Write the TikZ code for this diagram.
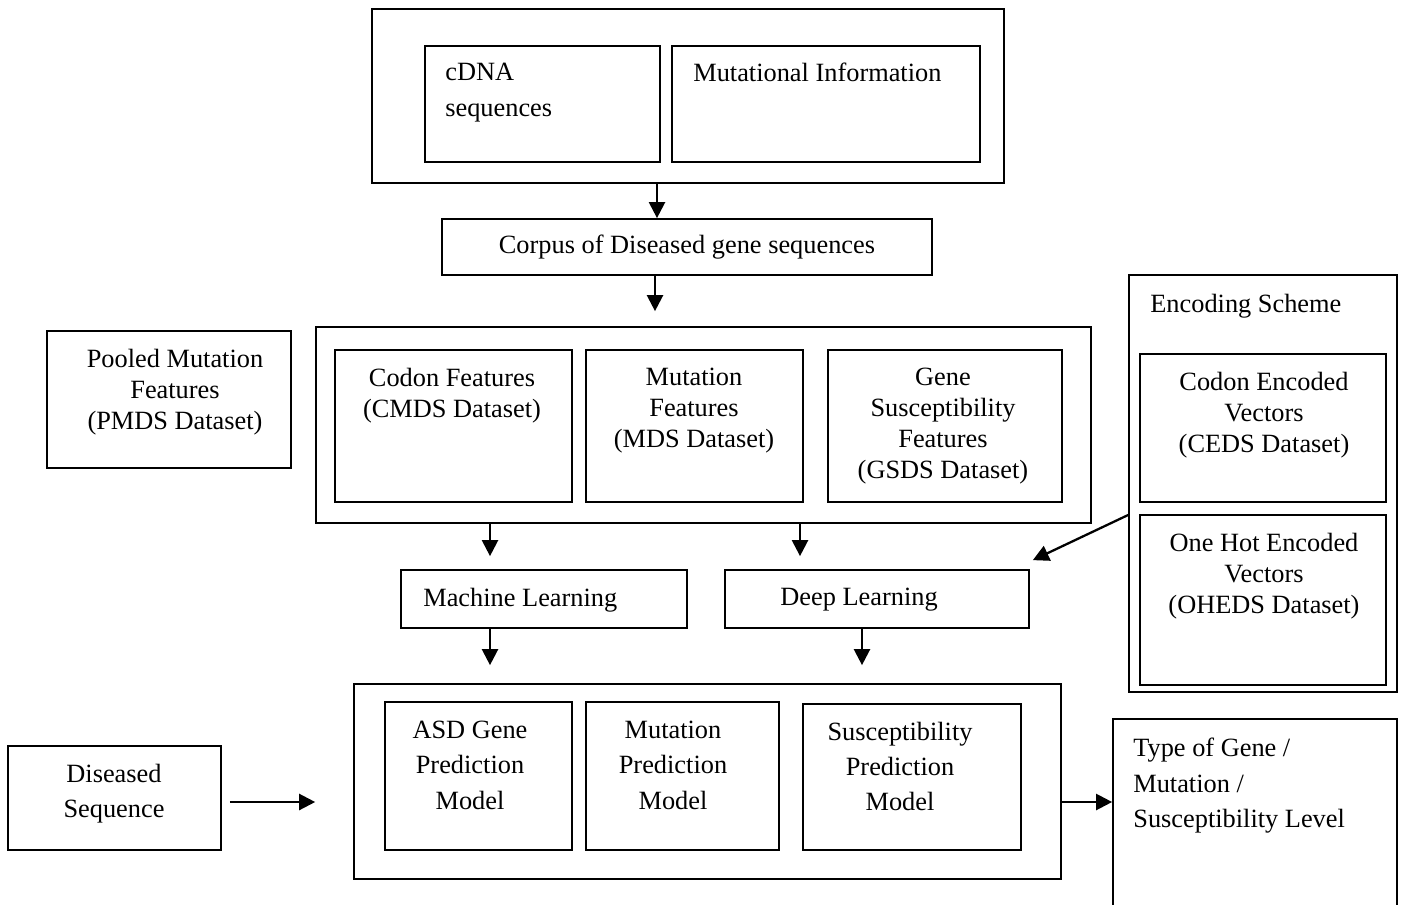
\documentclass[tikz,border=0pt]{standalone}
\usepackage{fontspec}
\setmainfont{Liberation Serif}
\usetikzlibrary{arrows.meta, calc, positioning}

\begin{document}
\begin{tikzpicture}[x=0.02cm, y=-0.02cm,
  box/.style={draw, line width=1pt, inner sep=0pt},
  lbl/.style={inner sep=0pt, align=center, font=\fontsize{15}{20}\selectfont},
  lbltight/.style={lbl, font=\fontsize{15}{17.6}\selectfont},
  flow/.style={-{Triangle[length=0.32cm, width=0.32cm]}, line width=1.3pt}
]
  \useasboundingbox (0,0) rectangle (1401,904);

  % sources
  \node[box, minimum width=12.64cm, minimum height=3.48cm] (src) at (688,96) {};
  \node[box, minimum width=4.70cm, minimum height=2.32cm] (cdna) at (542.5,104) {};
  \node[box, minimum width=6.16cm, minimum height=2.32cm] (mutinfo) at (826,104) {};
  \node[lbl, align=left, anchor=north west, font=\fontsize{15}{20.5}\selectfont] (cdnaT) at (445,63) {cDNA\\sequences};
  \node[lbl, anchor=north west] (mutinfoT) at (693,63) {Mutational Information};

  \node[box, lbl, minimum width=9.80cm, minimum height=1.12cm] (corpus) at (687,247) {Corpus of Diseased gene sequences};

  % feature sets
  \node[box, minimum width=15.50cm, minimum height=3.92cm] (feat) at (703.5,425) {};
  \node[box, minimum width=4.74cm, minimum height=3.04cm] (codon) at (453.5,426) {};
  \node[box, minimum width=4.34cm, minimum height=3.04cm] (mutfeat) at (694.5,426) {};
  \node[box, minimum width=4.68cm, minimum height=3.04cm] (genefeat) at (945,426) {};
  \node[lbltight, anchor=north] (codonT) at (452,368) {Codon Features\\(CMDS Dataset)};
  \node[lbltight, anchor=north] (mutfeatT) at (694,368) {Mutation\\Features\\(MDS Dataset)};
  \node[lbltight, anchor=north] (genefeatT) at (943,368) {Gene\\Susceptibility\\Features\\(GSDS Dataset)};

  \node[box, minimum width=4.88cm, minimum height=2.74cm] (pooled) at (169,399.5) {};
  \node[lbltight, anchor=north] (pooledT) at (175,349) {Pooled Mutation\\Features\\(PMDS Dataset)};

  % encodings
  \node[box, minimum width=5.36cm, minimum height=8.34cm] (enc) at (1263,483.5) {};
  \node[lbl, anchor=north west] (encT) at (1150,294) {Encoding Scheme};
  \node[box, minimum width=4.92cm, minimum height=2.96cm] (ceds) at (1263,428) {};
  \node[box, minimum width=4.92cm, minimum height=3.40cm] (oheds) at (1263,600) {};
  \node[lbltight, anchor=north] (cedsT) at (1264,372) {Codon Encoded\\Vectors\\(CEDS Dataset)};
  \node[lbltight, anchor=north] (ohedsT) at (1264,533) {One Hot Encoded\\Vectors\\(OHEDS Dataset)};

  % learners
  \node[box, minimum width=5.72cm, minimum height=1.16cm] (ml) at (544,599) {};
  \node[box, minimum width=6.08cm, minimum height=1.16cm] (dl) at (877,599) {};
  \node[lbl, anchor=north west] (mlT) at (423,588) {Machine Learning};
  \node[lbl, anchor=north west] (dlT) at (780,588) {Deep Learning};

  % models
  \node[box, minimum width=14.14cm, minimum height=3.90cm] (models) at (707.5,781.5) {};
  \node[box, minimum width=3.74cm, minimum height=2.96cm] (asd) at (478.5,776) {};
  \node[box, minimum width=3.86cm, minimum height=2.96cm] (mutpred) at (682.5,776) {};
  \node[box, minimum width=4.36cm, minimum height=2.92cm] (suspred) at (912,777) {};
  \node[lbl, anchor=north] (asdT) at (470,721) {ASD Gene\\Prediction\\Model};
  \node[lbl, anchor=north] (mutpredT) at (673,721) {Mutation\\Prediction\\Model};
  \node[lbl, anchor=north] (suspredT) at (900,722) {Susceptibility\\Prediction\\Model};

  \node[box, minimum width=4.26cm, minimum height=2.08cm] (disseq) at (114.5,798) {};
  \node[lbl, anchor=north] (disseqT) at (114,764) {Diseased\\Sequence};

  \node[box, minimum width=5.68cm, minimum height=3.86cm] (out) at (1255,815.5) {};
  \node[lbl, align=left, anchor=north west] (outT) at (1133,738) {Type of Gene /\\Mutation /\\Susceptibility Level};

  % arrows
  \draw[flow] ([xshift=-0.62cm]src.south) -- ([xshift=-0.62cm]src.south |- corpus.north);
  \draw[flow, shorten >=0.3cm] ([xshift=-0.64cm]corpus.south) -- ([xshift=-0.64cm]corpus.south |- feat.north);
  \draw[flow, shorten >=0.26cm] ([xshift=-1.08cm]ml.north |- feat.south) -- ([xshift=-1.08cm]ml.north);
  \draw[flow, shorten >=0.26cm] ([xshift=-1.54cm]dl.north |- feat.south) -- ([xshift=-1.54cm]dl.north);
  \draw[flow] ([yshift=-0.63cm]enc.west) -- ([shift={(0.06cm,0.18cm)}]dl.north east);
  \draw[flow, shorten >=0.36cm] ([xshift=-1.08cm]ml.south) -- ([xshift=-1.08cm]ml.south |- models.north);
  \draw[flow, shorten >=0.36cm] ([xshift=-0.30cm]dl.south) -- ([xshift=-0.30cm]dl.south |- models.north);
  \draw[flow, shorten <=0.16cm, shorten >=0.76cm] ([yshift=-0.08cm]disseq.east) -- ([yshift=-0.08cm]disseq.east -| models.west);
  \draw[flow] ([yshift=-0.41cm]models.east) -- ([yshift=-0.41cm]models.east -| out.west);
\end{tikzpicture}
\end{document}
